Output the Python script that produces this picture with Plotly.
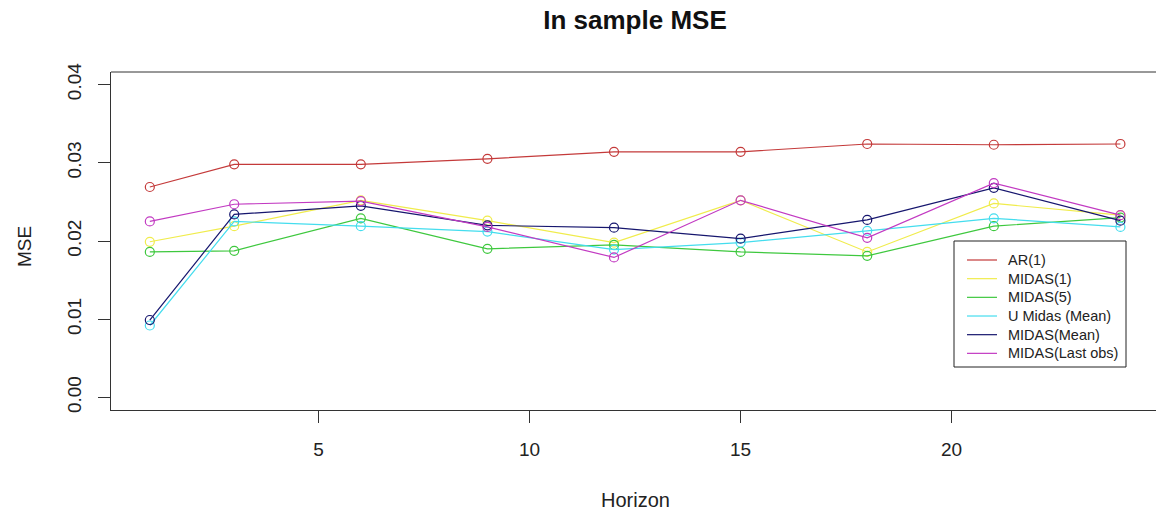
import plotly.graph_objects as go

horizon = [1, 3, 6, 9, 12, 15, 18, 21, 24]
ar1 = [0.0269, 0.0298, 0.0298, 0.0305, 0.0314, 0.0314, 0.0324, 0.0323, 0.0324]
midas1 = [0.0199, 0.0219, 0.0252, 0.0226, 0.0198, 0.0252, 0.0186, 0.0248, 0.0233]
midas5 = [0.0186, 0.01875, 0.0229, 0.0190, 0.0195, 0.0186, 0.0181, 0.0219, 0.0230]
umidas_mean = [0.0092, 0.0225, 0.0219, 0.0212, 0.0189, 0.0198, 0.0213, 0.0229, 0.0218]
midas_mean = [0.0099, 0.0234, 0.0245, 0.0220, 0.0217, 0.0203, 0.0227, 0.0268, 0.0226]
midas_last = [0.0225, 0.0247, 0.0251, 0.0218, 0.0179, 0.0252, 0.0204, 0.0274, 0.0233]

series_names = ["AR(1)", "MIDAS(1)", "MIDAS(5)", "U Midas (Mean)", "MIDAS(Mean)", "MIDAS(Last obs)"]
series_values = [ar1, midas1, midas5, umidas_mean, midas_mean, midas_last]
series_colors = ["#C43A3A", "#F0EC4C", "#3EC83E", "#44DDEE", "#16166E", "#C23AC2"]

x_ticks = [5, 10, 15, 20]
y_ticks = [0.00, 0.01, 0.02, 0.03, 0.04]
y_tick_labels = ["0.00", "0.01", "0.02", "0.03", "0.04"]

FONT = "Liberation Sans, Arial, sans-serif"
W, H = 1156, 518
ML, MR, MT, MB = 111, 0, 72, 108
PW, PH = W - ML - MR, H - MT - MB


def px_x(px):
    return (px - ML) / PW


def px_y(py):
    return (H - MB - py) / PH


fig = go.Figure()
for name, vals, col in zip(series_names, series_values, series_colors):
    fig.add_trace(go.Scatter(
        x=horizon, y=vals, name=name, mode="lines+markers", showlegend=False,
        line=dict(color=col, width=1.2),
        marker=dict(symbol="circle-open", size=9, color=col, line=dict(width=1.2, color=col)),
    ))

fig.update_layout(
    width=W, height=H,
    margin=dict(l=ML, r=MR, t=MT, b=MB),
    paper_bgcolor="white", plot_bgcolor="white",
    font=dict(family=FONT, color="#222222"),
    title=dict(text="<b>In sample MSE</b>", font=dict(size=26, family=FONT, color="#111111"),
               x=635 / W, xref="container", xanchor="center",
               y=1 - 20 / H, yref="container", yanchor="middle"),
    showlegend=False,
)
fig.update_xaxes(
    range=[0.08, 0.08 + PW / 42.2], tickvals=x_ticks, ticks="outside", ticklen=12, tickcolor="#333333",
    showgrid=False, zeroline=False, showline=True, linecolor="#333333", linewidth=1,
    tickfont=dict(size=19, family=FONT, color="#222222"), ticklabelstandoff=10,
)
fig.update_yaxes(
    range=[-0.0016, 0.0416], tickvals=y_ticks, ticktext=y_tick_labels, ticks="outside", ticklen=12,
    tickcolor="#333333", tickangle=-90,
    showgrid=False, zeroline=False, showline=True, linecolor="#333333", linewidth=1,
    tickfont=dict(size=19, family=FONT, color="#222222"), ticklabelstandoff=9,
)
# top border of the plot box
fig.add_shape(type="line", xref="paper", yref="paper", x0=0, x1=1, y0=1, y1=1,
              line=dict(color="#333333", width=1))
fig.add_annotation(text="Horizon", xref="paper", yref="paper", x=px_x(635),
                   y=px_y(500), xanchor="center", yanchor="middle", showarrow=False,
                   font=dict(size=20, family=FONT, color="#222222"))
fig.add_annotation(text="MSE", xref="paper", yref="paper", x=px_x(24),
                   y=px_y(247), xanchor="center", yanchor="middle", showarrow=False,
                   textangle=-90, font=dict(size=19, family=FONT, color="#222222"))

# legend drawn as in R: box, line samples, labels
fig.add_shape(type="rect", xref="paper", yref="paper",
              x0=px_x(954), x1=px_x(1126), y0=px_y(367), y1=px_y(241),
              line=dict(color="#222222", width=1), fillcolor="white", layer="above")
for i, (name, col) in enumerate(zip(series_names, series_colors)):
    ry = 260 + i * 18.67
    fig.add_shape(type="line", xref="paper", yref="paper",
                  x0=px_x(967), x1=px_x(997), y0=px_y(ry), y1=px_y(ry),
                  line=dict(color=col, width=1.2), layer="above")
    fig.add_annotation(text=name, xref="paper", yref="paper", x=px_x(1006), y=px_y(ry),
                       xanchor="left", yanchor="middle", showarrow=False,
                       font=dict(size=14.5, family=FONT, color="#222222"))

fig.write_html("out.html", config={"displayModeBar": False},
               post_script="document.body.style.margin='0';")
